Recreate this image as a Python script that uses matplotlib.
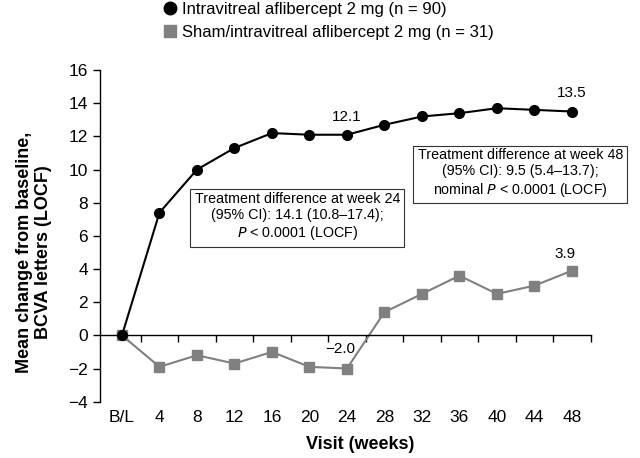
import matplotlib.pyplot as plt
from matplotlib.lines import Line2D

plt.rcParams['font.family'] = ['Liberation Sans', 'DejaVu Sans']

# data
visits = ["B/L", "4", "8", "12", "16", "20", "24", "28", "32", "36", "40", "44", "48"]
aflibercept = [0, 7.4, 10.0, 11.3, 12.2, 12.1, 12.1, 12.7, 13.2, 13.4, 13.7, 13.6, 13.5]
sham = [0, -1.9, -1.2, -1.7, -1.0, -1.9, -2.0, 1.4, 2.5, 3.6, 2.5, 3.0, 3.9]
label_afl = "Intravitreal aflibercept 2 mg (n = 90)"
label_sham = "Sham/intravitreal aflibercept 2 mg (n = 31)"

black = "#000000"
grey = "#808080"

fig = plt.figure(figsize=(6.4, 4.58), dpi=100)
ax = fig.add_axes([0.156, 0.123, 0.767, 0.724])

x = list(range(len(visits)))
ax.plot(x, sham, color=grey, lw=1.5, marker="s", ms=6.5, zorder=2)
ax.plot(x, aflibercept, color=black, lw=1.5, marker="o", ms=7, zorder=3)

ax.set_xlim(-0.59, 12.5)
ax.set_ylim(-4, 16)
ax.set_yticks(range(-4, 17, 2))
ax.set_yticklabels([str(v).replace("-", "\u2212") for v in range(-4, 17, 2)])

for s in ["top", "right"]:
    ax.spines[s].set_visible(False)
ax.spines["bottom"].set_position(("data", 0))
ax.spines["left"].set_linewidth(1)
ax.spines["bottom"].set_linewidth(1)

ax.set_xticks(x)
ax.set_xticklabels(visits)
ax.set_xticks([i + 0.5 for i in x], minor=True)
ax.tick_params(axis="x", which="major", length=0, pad=54, labelsize=12.5)
ax.tick_params(axis="x", which="minor", length=5, width=1, direction="out")
ax.tick_params(axis="y", length=5, width=1, labelsize=12.5)

ax.set_ylabel("Mean change from baseline,\nBCVA letters (LOCF)", fontsize=13,
              fontweight="bold", linespacing=1.1)
ax.yaxis.set_label_coords(-0.098, 0.45)
ax.set_xlabel("Visit (weeks)", fontsize=13, fontweight="bold")
ax.xaxis.set_label_coords(0.53, -0.105)

# value labels
ax.annotate("12.1", (6, aflibercept[6]), xytext=(0, 13), textcoords="offset points",
            ha="center", va="center", fontsize=11)
ax.annotate("13.5", (12, aflibercept[12]), xytext=(0, 13), textcoords="offset points",
            ha="center", va="center", fontsize=11)
ax.annotate("3.9", (12, sham[12]), xytext=(-5, 12), textcoords="offset points",
            ha="center", va="center", fontsize=11)
ax.annotate("\u22122.0", (6, sham[6]), xytext=(-5, 14), textcoords="offset points",
            ha="center", va="center", fontsize=11)

box = dict(boxstyle="square,pad=0.3", fc="white", ec="#333333", lw=0.8)
ax.text(4.68, 7.14, "Treatment difference at week 24\n(95% CI): 14.1 (10.8\u201317.4);\n$P$ < 0.0001 (LOCF)",
        ha="center", va="center", multialignment="center", fontsize=10.3, bbox=box,
        linespacing=1.2)
ax.text(10.62, 9.76, "Treatment difference at week 48\n(95% CI): 9.5 (5.4\u201313.7);\nnominal $P$ < 0.0001 (LOCF)",
        ha="center", va="center", multialignment="center", fontsize=10.3, bbox=box,
        linespacing=1.2, clip_on=False)

handles = [Line2D([], [], color=black, marker="o", ls="none", ms=9),
           Line2D([], [], color=grey, marker="s", ls="none", ms=9)]
fig.legend(handles, [label_afl, label_sham], loc="upper left",
           bbox_to_anchor=(0.255, 0.995), frameon=False, fontsize=12,
           handlelength=0.8, handletextpad=0.3, labelspacing=0.45,
           borderpad=0, borderaxespad=0)

fig.savefig("out.png", dpi=100)
